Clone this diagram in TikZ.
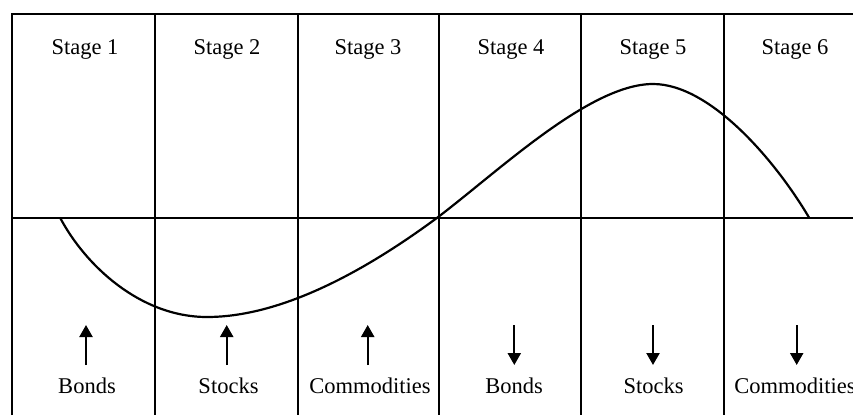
\documentclass[tikz,border=0pt]{standalone}
\usepackage{fontspec}
\setmainfont{Liberation Serif}
\usetikzlibrary{arrows.meta}
\begin{document}
\begin{tikzpicture}[x=1pt,y=-1pt,
  grid/.style={line width=2pt,black},
  lbl/.style={font=\fontsize{22.5}{26}\selectfont,inner sep=0pt,anchor=base},
  trend/.style={line width=2.2pt,-{Triangle[length=12pt,width=13pt]}},
  curve/.style={line width=2.2pt}]
\useasboundingbox (0,0) rectangle (853,415);
% frame
\draw[line width=2.4pt] (12,415) -- (12,14) -- (853,14);
\draw[grid] (12,217.5) -- (853,217.5);
\foreach \x in {154.5,297.5,438.5,581,723.5}
  \draw[grid] (\x,14) -- (\x,415);
% stage labels
\node[lbl] (s1) at (85,54) {Stage 1};
\node[lbl] (s2) at (227,54) {Stage 2};
\node[lbl] (s3) at (368,54) {Stage 3};
\node[lbl] (s4) at (511,54) {Stage 4};
\node[lbl] (s5) at (653,54) {Stage 5};
\node[lbl] (s6) at (795,54) {Stage 6};
% curve
\coordinate (c0) at (60,217.5);
\coordinate (c1) at (207,317);
\coordinate (c2) at (437.5,217.5);
\coordinate (c3) at (653,84);
\coordinate (c4) at (809,217.5);
\draw[curve] (c0) .. controls (85,265) and (140,317) .. (c1)
  .. controls (290,317) and (380,260) .. (c2)
  .. controls (500,170) and (590,84) .. (c3)
  .. controls (710,84) and (775,160) .. (c4);
% arrows
\foreach \n/\x in {a1/86,a2/226.7,a3/367.7}{
  \coordinate (\n b) at (\x,365);
  \coordinate (\n t) at (\x,325);
  \draw[trend] (\n b) -- (\n t);
}
\foreach \n/\x in {a4/514.3,a5/653,a6/796.7}{
  \coordinate (\n b) at (\x,365);
  \coordinate (\n t) at (\x,325);
  \draw[trend] (\n t) -- (\n b);
}
% asset labels
\node[lbl] (b1) at (87,393) {Bonds};
\node[lbl] (b2) at (228.5,393) {Stocks};
\node[lbl] (b3) at (370,393) {Commodities};
\node[lbl] (b4) at (514,393) {Bonds};
\node[lbl] (b5) at (653.5,393) {Stocks};
\node[lbl] (b6) at (795,393) {Commodities};
\end{tikzpicture}
\end{document}
